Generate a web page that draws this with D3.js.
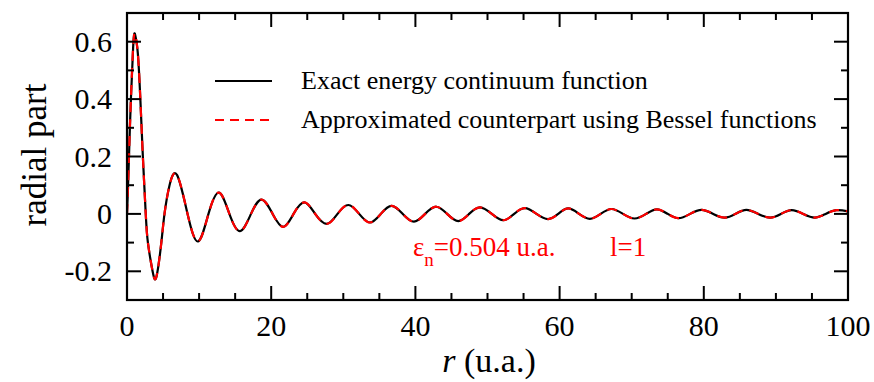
<!DOCTYPE html>
<html>
<head>
<meta charset="utf-8">
<script src="https://cdn.jsdelivr.net/npm/d3@7"></script>
<style>
  body { margin: 0; background: #fff; }
  svg text { font-family: "Liberation Serif", "Times New Roman", serif; }
</style>
</head>
<body>
<svg width="874" height="382"></svg>
<script>
// r values (u.a.) read at extrema and zero crossings
const rPoints = [0, 0.15, 0.4, 0.85, 1.15, 1.5, 1.85, 2.2, 2.6, 2.9, 3.55, 4.1, 4.76, 5.2, 5.9, 6.95,
  8.4, 9.85, 11.3, 12.76, 14.2, 15.67, 17.2, 18.68, 20.2, 21.68, 23.1, 24.6, 26.1, 27.7,
  29.2, 30.7, 32.2, 33.7, 35.2, 36.7, 38.25, 39.8, 41.35, 42.9, 44.4, 45.95, 47.45, 48.96,
  50.6, 52.2, 53.7, 55.2, 56.8, 58.4, 59.8, 61.2, 62.7, 64.2, 65.7, 67.2, 68.8, 70.4,
  72.0, 73.5, 75.0, 76.5, 78.1, 79.7, 81.3, 82.9, 84.4, 85.9, 87.55, 89.2, 90.7, 92.2,
  93.8, 95.4, 96.9, 98.4, 100];
// exact continuum function
const exactValues = [0, 0.1, 0.3, 0.58, 0.622, 0.56, 0.4, 0.2, 0, -0.1, -0.2, -0.217, -0.1, 0, 0.1, 0.135,
  0, -0.096, 0, 0.074, 0, -0.060, 0, 0.050, 0, -0.045, 0, 0.040, 0, -0.035,
  0, 0.031, 0, -0.030, 0, 0.028, 0, -0.027, 0, 0.025, 0, -0.025, 0, 0.023,
  0, -0.022, 0, 0.020, 0, -0.018, 0, 0.019, 0, -0.017, 0, 0.017, 0, -0.016,
  0, 0.016, 0, -0.015, 0, 0.014, 0, -0.013, 0, 0.014, 0, -0.013, 0, 0.013,
  0, -0.013, 0, 0.013, 0.009];
// approximation with Bessel functions (indistinguishable at this scale)
const besselValues = exactValues.slice();

const xTicks = [0, 20, 40, 60, 80, 100];
const yTicks = [-0.2, 0, 0.2, 0.4, 0.6];
const yTickLabels = ['-0.2', '0', '0.2', '0.4', '0.6'];
const legendLabels = ['Exact energy continuum function', 'Approximated counterpart using Bessel functions'];

const serif = '"Liberation Serif", "Times New Roman", serif';
const margin = {left: 127, top: 13, right: 26, bottom: 82};
const width = 874 - margin.left - margin.right;
const height = 382 - margin.top - margin.bottom;

const svg = d3.select('svg');
const g = svg.append('g').attr('transform', `translate(${margin.left},${margin.top})`);

const x = d3.scaleLinear().domain([0, 100]).range([0, width]);
const y = d3.scaleLinear().domain([-0.3, 0.7]).range([height, 0]);

svg.append('defs').append('clipPath').attr('id', 'plot')
  .append('rect').attr('width', width).attr('height', height);

// curves
const line = d3.line()
  .x((d, i) => x(rPoints[i]))
  .y(d => y(d))
  .curve(d3.curveNatural);

const curves = g.append('g').attr('clip-path', 'url(#plot)');
curves.append('path')
  .attr('d', line(exactValues))
  .attr('fill', 'none').attr('stroke', '#000').attr('stroke-width', 2.2);
curves.append('path')
  .attr('d', line(besselValues))
  .attr('fill', 'none').attr('stroke', '#ff0000').attr('stroke-width', 2.2)
  .attr('stroke-dasharray', '10,7');

// ticks inside on all four sides
const major = 14, minor = 7;
const tickG = g.append('g').attr('stroke', '#000').attr('stroke-width', 2);
d3.range(0, 101, 5).forEach(v => {
  const len = v % 20 === 0 ? major : minor;
  tickG.append('line').attr('x1', x(v)).attr('x2', x(v)).attr('y1', height).attr('y2', height - len);
  tickG.append('line').attr('x1', x(v)).attr('x2', x(v)).attr('y1', 0).attr('y2', len);
});
d3.range(-3, 8).forEach(k => {
  const v = k / 10;
  const len = k % 2 === 0 ? major : minor;
  tickG.append('line').attr('x1', 0).attr('x2', len).attr('y1', y(v)).attr('y2', y(v));
  tickG.append('line').attr('x1', width).attr('x2', width - len).attr('y1', y(v)).attr('y2', y(v));
});

g.append('rect').attr('width', width).attr('height', height)
  .attr('fill', 'none').attr('stroke', '#000').attr('stroke-width', 2.2);

// tick labels
g.selectAll('.xlab').data(xTicks).enter().append('text')
  .attr('x', d => x(d)).attr('y', height + 36)
  .attr('text-anchor', 'middle').attr('font-family', serif).attr('font-size', 30)
  .text(d => d);
g.selectAll('.ylab').data(yTicks).enter().append('text')
  .attr('x', -15).attr('y', d => y(d) + 10)
  .attr('text-anchor', 'end').attr('font-family', serif).attr('font-size', 30)
  .text((d, i) => yTickLabels[i]);

// axis titles
const xt = svg.append('text').attr('x', 489).attr('y', 372)
  .attr('text-anchor', 'middle').attr('font-family', serif).attr('font-size', 34);
xt.append('tspan').attr('font-style', 'italic').text('r');
xt.append('tspan').text(' (u.a.)');

svg.append('text')
  .attr('transform', 'translate(46,155) rotate(-90)')
  .attr('text-anchor', 'middle').attr('font-family', serif).attr('font-size', 35)
  .text('radial part');

// legend
const legend = g.append('g');
legendLabels.forEach((t, i) => {
  const ly = 68 + i * 39;
  legend.append('line').attr('x1', 88).attr('x2', 145).attr('y1', ly).attr('y2', ly)
    .attr('stroke', i === 0 ? '#000' : '#ff0000').attr('stroke-width', 2)
    .attr('stroke-dasharray', i === 0 ? null : '9,6');
  legend.append('text').attr('x', 174).attr('y', ly + 8)
    .attr('font-family', serif).attr('font-size', 26).text(t);
});

// annotation
const ann = svg.append('text').attr('y', 256).attr('fill', '#ff0000')
  .attr('font-family', serif).attr('font-size', 27);
ann.append('tspan').attr('x', 413).text('ε');
ann.append('tspan').attr('font-size', 19).attr('dy', 10).text('n');
ann.append('tspan').attr('dy', -10).text('=0.504 u.a.');
svg.append('text').attr('x', 610).attr('y', 256).attr('fill', '#ff0000')
  .attr('font-family', serif).attr('font-size', 27).text('l=1');
</script>
</body>
</html>
